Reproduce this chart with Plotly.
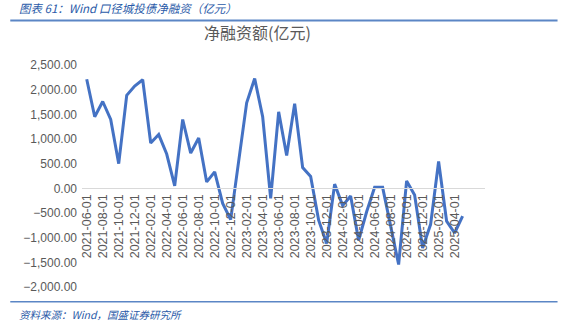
import plotly.graph_objects as go

# Monthly net financing of urban-investment bonds (Wind), 100 million yuan
months = [
    "2021-06-01", "2021-07-01", "2021-08-01", "2021-09-01", "2021-10-01", "2021-11-01",
    "2021-12-01", "2022-01-01", "2022-02-01", "2022-03-01", "2022-04-01", "2022-05-01",
    "2022-06-01", "2022-07-01", "2022-08-01", "2022-09-01", "2022-10-01", "2022-11-01",
    "2022-12-01", "2023-01-01", "2023-02-01", "2023-03-01", "2023-04-01", "2023-05-01",
    "2023-06-01", "2023-07-01", "2023-08-01", "2023-09-01", "2023-10-01", "2023-11-01",
    "2023-12-01", "2024-01-01", "2024-02-01", "2024-03-01", "2024-04-01", "2024-05-01",
    "2024-06-01", "2024-07-01", "2024-08-01", "2024-09-01", "2024-10-01", "2024-11-01",
    "2024-12-01", "2025-01-01", "2025-02-01", "2025-03-01", "2025-04-01", "2025-05-01",
]
net_financing = [
    2210, 1450, 1760, 1395, 500, 1885,
    2075, 2200, 920, 1090, 695, 50,
    1395, 715, 1020, 130, 335, -305,
    -635, 560, 1735, 2225, 1450, -205,
    1550, 665, 1715, 420, 240, -645,
    -1120, 85, -350, -155, -1055, -475,
    20, 20, -785, -1545, 150, -135,
    -1210, -730, 545, -665, -905, -565,
]
y_ticks = [2500, 2000, 1500, 1000, 500, 0, -500, -1000, -1500, -2000]
x_ticks = months[::2]

title_text = "净融资额(亿元)"
header_text = "图表 61：Wind 口径城投债净融资（亿元）"
source_text = "资料来源：Wind，国盛证券研究所"

y_min, y_max = -2000, 2500
zero_pos = (0 - y_min) / (y_max - y_min)

blue_text = "#2A5AA8"
rule_blue = "#5B86C5"
grey = "#595959"

fig = go.Figure()
fig.add_trace(go.Scatter(
    x=months, y=net_financing, mode="lines",
    line=dict(color="#4472C4", width=3),
    showlegend=False, hoverinfo="x+y",
))

fig.update_layout(
    width=570, height=322,
    margin=dict(l=82, r=85, t=65, b=35),
    paper_bgcolor="white", plot_bgcolor="white",
    font=dict(family="Liberation Sans, Arial, sans-serif", color=grey),
    xaxis=dict(
        type="category",
        range=[-0.59, 49.8],
        tickmode="array", tickvals=x_ticks, ticktext=x_ticks,
        tickangle=-90,
        tickfont=dict(size=12.5, color=grey),
        anchor="free", position=zero_pos,
        showline=True, linecolor="#D9D9D9", linewidth=1,
        showgrid=False, ticks="",
    ),
    yaxis=dict(
        range=[y_min, y_max],
        tickmode="array", tickvals=y_ticks,
        tickformat=",.2f",
        tickfont=dict(size=12, color=grey),
        ticklabelstandoff=4,
        showgrid=False, zeroline=False, showline=False, ticks="",
    ),
    shapes=[
        dict(type="line", xref="paper", yref="paper",
             x0=-0.178, x1=1.18, y0=1.2, y1=1.2,
             line=dict(color=rule_blue, width=2)),
        dict(type="line", xref="paper", yref="paper",
             x0=-0.178, x1=1.18, y0=-0.066, y1=-0.066,
             line=dict(color=rule_blue, width=1.5)),
    ],
    annotations=[
        dict(text=title_text, xref="paper", yref="paper", x=0.435, y=1.085,
             xanchor="center", yanchor="bottom", showarrow=False,
             font=dict(family="Noto Sans CJK SC", size=16, color=grey)),
        dict(text="<i>" + header_text + "</i>", xref="paper", yref="paper",
             x=-0.162, y=1.213, xanchor="left", yanchor="bottom", showarrow=False,
             font=dict(family="Noto Sans CJK SC", size=11.5, color=blue_text)),
        dict(text="<i>" + source_text + "</i>", xref="paper", yref="paper",
             x=-0.162, y=-0.08, xanchor="left", yanchor="top", showarrow=False,
             font=dict(family="Noto Sans CJK SC", size=10.5, color=blue_text)),
    ],
)

fig.write_html("out.html")
